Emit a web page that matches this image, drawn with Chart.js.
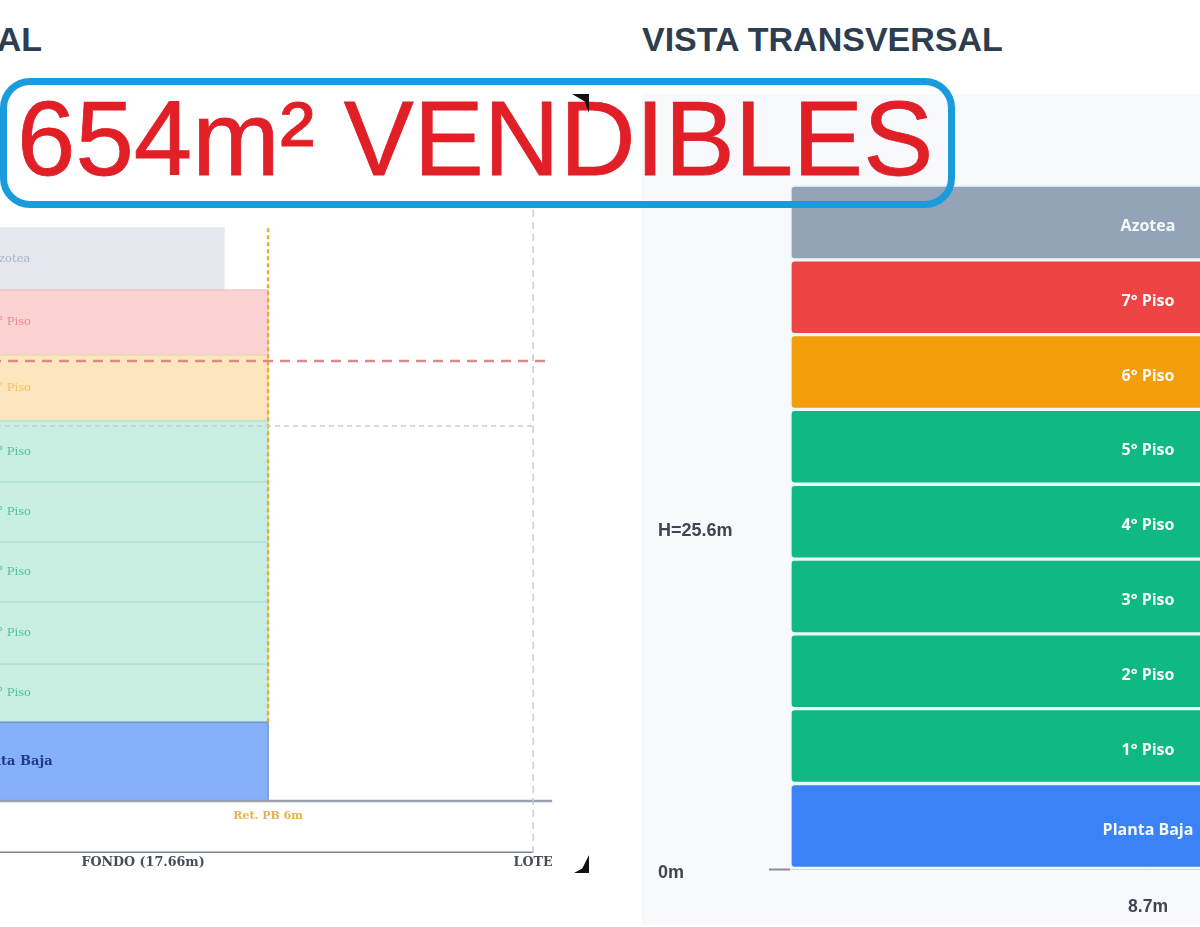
<!DOCTYPE html>
<html>
<head>
<meta charset="utf-8">
<title>Vistas</title>
<style>
  html, body { margin: 0; padding: 0; background: #fff; width: 1200px; height: 927px; overflow: hidden; }
  canvas { position: absolute; }
  .heading { position: absolute; top: 20px; font: bold 34px "Liberation Sans", sans-serif; color: #2c3e50; white-space: nowrap; }
  #panel { position: absolute; left: 642px; top: 94px; width: 558px; height: 831px; background: #f7f9fc; }
  #box { position: absolute; left: 0; top: 78px; width: 941px; height: 116px; border: 7px solid #1a9bdc; border-radius: 30px; }
  #big { position: absolute; left: 17px; top: 79px; font: 105px "Liberation Sans", sans-serif; color: #e01f26; white-space: nowrap; -webkit-text-stroke: 0.8px #e01f26; }
  .mark { position: absolute; background: #111; }
</style>
</head>
<body>
<div class="heading" style="right: 1158px;">VISTA LONGITUDINAL</div>
<div class="heading" style="left: 642px;">VISTA TRANSVERSAL</div>
<canvas id="sideChart" width="804" height="690" style="left:-247px; top:190px;"></canvas>
<div id="panel"></div>
<canvas id="crossChart" width="848" height="831" style="left:658px; top:94px;"></canvas>
<div id="box"></div>
<div id="big">654m² VENDIBLES</div>
<div class="mark" style="left:572px; top:94px; width:17px; height:19px; clip-path: polygon(0 0, 100% 0, 100% 100%, 75% 40%);"></div>
<div class="mark" style="left:574px; top:855px; width:15px; height:18px; clip-path: polygon(100% 0, 100% 100%, 0 100%, 55% 75%);"></div>

<script src="https://cdn.jsdelivr.net/npm/chart.js"></script>
<script>
"use strict";
// floors from the ground up
const floorNames = ["Planta Baja", "1° Piso", "2° Piso", "3° Piso", "4° Piso", "5° Piso", "6° Piso", "7° Piso", "Azotea"];

// longitudinal view, metres
const sideHeights = [3.52, 2.59, 2.78, 2.68, 2.68, 2.73, 2.95, 2.9, 2.77];
const sideDepths = [11.66, 11.66, 11.66, 11.66, 11.66, 11.66, 11.66, 11.66, 10.66];
const lotDepth = 17.66;
const retiroDepth = 11.66;
const retiroLabel = "Ret. PB 6m";
const redLineHeight = 19.66;
const grayLineHeight = 16.76;
const sideTickValues = [8.83, 17.66];
const sideTickLabels = ["FONDO (17.66m)", "LOTE"];

// cross section
const crossHeights = [3.2, 2.8, 2.8, 2.8, 2.8, 2.8, 2.8, 2.8, 2.8];
const crossWidthLabel = ["8.7m"];
const crossTickValues = [0, 12.8];
const crossTickLabels = ["0m", "H=25.6m"];

const sideFill = ["#86b0fa", "#c8efe2", "#c8efe2", "#c8efe2", "#c8efe2", "#c8efe2", "#fde5be", "#fdd2d3", "#e4e7ee"];
const sideEdge = ["#6d96db", "#b4e3d2", "#b4e3d2", "#b4e3d2", "#b4e3d2", "#b4e3d2", "#ecd9b4", "#eec8c9", "#e4e7ee"];
const sideText = ["#1e3a8a", "#4cc29c", "#4cc29c", "#4cc29c", "#4cc29c", "#4cc29c", "#f3c05f", "#ee8a8c", "#aeb4c0"];
const crossFill = ["#3b82f6", "#10b981", "#10b981", "#10b981", "#10b981", "#10b981", "#f59e0b", "#ef4444", "#94a3b8"];

const serif = "'DejaVu Serif', serif";
const sans = "'Liberation Sans', sans-serif";

function floorStarts(heights) {
  let sum = 0;
  return heights.map((h) => {
    const start = sum;
    sum += h;
    return start;
  });
}

function lineSet(points, color, width, dash) {
  return {
    data: points.map((p) => ({ x: p[0], y: p[1] })),
    showLine: true,
    fill: false,
    borderColor: color,
    borderWidth: width,
    borderDash: dash,
    pointRadius: 0,
    order: 1,
  };
}

// ---- left chart ----
const sideStarts = floorStarts(sideHeights);
const sideTop = sideStarts[8] + sideHeights[8];
const axisDrop = -2.32;

const floorSets = floorNames.map((name, i) => {
  const y0 = sideStarts[i];
  const y1 = y0 + sideHeights[i];
  const d = sideDepths[i];
  return {
    label: name,
    data: [{ x: 0, y: y0 }, { x: d, y: y0 }, { x: d, y: y1 }, { x: 0, y: y1 }, { x: 0, y: y0 }],
    showLine: true,
    fill: "shape",
    backgroundColor: sideFill[i],
    borderColor: sideEdge[i],
    borderWidth: 1.5,
    pointRadius: 0,
    order: 5,
  };
});

const sideLabels = {
  id: "sideLabels",
  afterDraw(chart) {
    const { ctx, scales } = chart;
    ctx.save();
    ctx.textAlign = "center";
    ctx.textBaseline = "middle";
    floorNames.forEach((name, i) => {
      ctx.font = (i === 0 ? "bold 13px " : "11.5px ") + serif;
      ctx.fillStyle = sideText[i];
      const y = scales.y.getPixelForValue(sideStarts[i] + sideHeights[i] / 2);
      ctx.fillText(name, scales.x.getPixelForValue(retiroDepth / 2), y);
    });
    ctx.font = "bold 11px " + serif;
    ctx.fillStyle = "#e8b04e";
    ctx.fillText(retiroLabel, scales.x.getPixelForValue(retiroDepth), scales.y.getPixelForValue(-0.66));
    ctx.restore();
  },
};

new Chart(document.getElementById("sideChart"), {
  type: "scatter",
  data: {
    datasets: [
      lineSet([[0, redLineHeight], [18.05, redLineHeight]], "#d98a8a", 2.5, [10, 7]),
      lineSet([[0, grayLineHeight], [lotDepth, grayLineHeight]], "#c9cdd3", 1.5, [5, 4]),
      lineSet([[retiroDepth, sideStarts[1]], [retiroDepth, sideTop]], "#e8ac3c", 2.5, [4, 3]),
      lineSet([[lotDepth, axisDrop], [lotDepth, 26.5]], "#c8ccd2", 1.5, [7, 5]),
      lineSet([[0, 0], [18.09, 0]], "#9ca3af", 2.5, []),
      lineSet([[0, axisDrop], [lotDepth, axisDrop]], "#7f858f", 3, []),
      ...floorSets,
    ],
  },
  plugins: [sideLabels],
  options: {
    responsive: false,
    animation: false,
    layout: { padding: 0 },
    plugins: { legend: { display: false }, tooltip: { enabled: false } },
    scales: {
      x: {
        type: "linear",
        min: 0,
        max: 18.2,
        grid: { display: false, drawTicks: false },
        border: { display: false },
        afterBuildTicks(axis) {
          axis.ticks = sideTickValues.map((v) => ({ value: v }));
        },
        afterFit(axis) {
          axis.height = 27;
        },
        ticks: {
          autoSkip: false,
          maxRotation: 0,
          padding: 2,
          color: "#454c56",
          font: { family: serif, weight: "bold", size: 12.7 },
          callback: (v) => sideTickLabels[sideTickValues.indexOf(v)],
        },
      },
      y: { type: "linear", display: false, min: axisDrop, max: 27.3 },
    },
  },
});

// ---- right chart ----
const crossStarts = floorStarts(crossHeights);

const crossLabels = {
  id: "crossLabels",
  afterDatasetsDraw(chart) {
    const { ctx } = chart;
    ctx.save();
    ctx.textAlign = "center";
    ctx.textBaseline = "middle";
    ctx.fillStyle = "#f4fbf9";
    ctx.font = "bold 16px 'Open Sans', sans-serif";
    chart.data.datasets.forEach((set, i) => {
      const bar = chart.getDatasetMeta(i).data[0];
      ctx.fillText(set.label, bar.x, (bar.y + bar.base) / 2 + 4);
    });
    ctx.restore();
  },
};

new Chart(document.getElementById("crossChart"), {
  type: "bar",
  data: {
    labels: crossWidthLabel,
    datasets: floorNames.map((name, i) => ({
      label: name,
      data: [[crossStarts[i], crossStarts[i] + crossHeights[i]]],
      backgroundColor: crossFill[i],
      borderColor: "#eaf9f5",
      borderWidth: 2,
      borderSkipped: false,
      borderRadius: 5,
      grouped: false,
      barPercentage: 1,
      categoryPercentage: 1,
    })),
  },
  plugins: [crossLabels],
  options: {
    responsive: false,
    animation: false,
    layout: { padding: 0 },
    plugins: { legend: { display: false }, tooltip: { enabled: false } },
    scales: {
      x: {
        grid: { display: false },
        border: { color: "#cbd5e1", width: 1 },
        afterFit(axis) {
          axis.height = 56;
        },
        ticks: {
          padding: 20,
          maxRotation: 0,
          color: "#3f4650",
          font: { family: sans, weight: "bold", size: 17.5 },
        },
      },
      y: {
        min: 0,
        max: 28.49,
        border: { display: false },
        grid: {
          drawOnChartArea: false,
          drawTicks: true,
          tickLength: 21,
          tickWidth: 2,
          tickColor: (c) => (c.tick && c.tick.value === 0 ? "#8a9099" : "transparent"),
        },
        afterBuildTicks(axis) {
          axis.ticks = crossTickValues.map((v) => ({ value: v }));
        },
        afterFit(axis) {
          axis.width = 132;
        },
        ticks: {
          crossAlign: "far",
          labelOffset: 4,
          color: "#3f4650",
          font: { family: sans, weight: "bold", size: 18 },
          callback: (v) => crossTickLabels[crossTickValues.indexOf(v)],
        },
      },
    },
  },
});
</script>
</body>
</html>
